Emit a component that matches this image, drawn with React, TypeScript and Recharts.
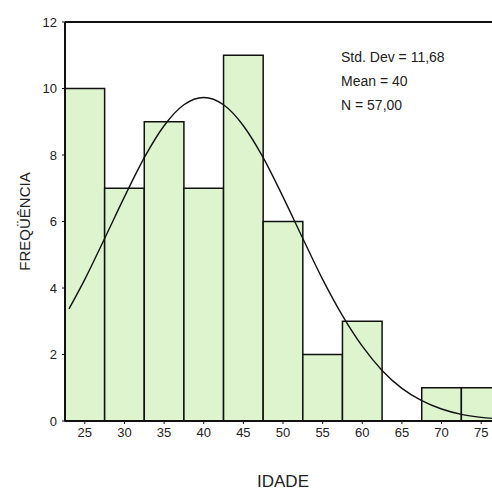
import { ComposedChart, Line, XAxis, YAxis, ReferenceArea, ReferenceLine } from "recharts";

// histogram bins (age classes) and counts
const binCenters = [25, 30, 35, 40, 45, 50, 55, 60, 65, 70, 75];
const counts = [10, 7, 9, 7, 11, 6, 2, 3, 0, 1, 1];
const binWidth = 5;

// fitted normal curve
const curveX = [23, 25, 27.5, 30, 32.5, 35, 37.5, 40, 42.5, 45, 47.5, 50, 52.5, 55, 57.5, 60, 62.5, 65, 67.5, 70, 72.5, 75, 77.5];
const curveY = [3.37, 4.26, 5.49, 6.74, 7.92, 8.88, 9.51, 9.73, 9.51, 8.88, 7.92, 6.74, 5.49, 4.26, 3.17, 2.25, 1.52, 0.98, 0.61, 0.36, 0.2, 0.11, 0.06];

const xTicks = [25, 30, 35, 40, 45, 50, 55, 60, 65, 70, 75];
const yTicks = [0, 2, 4, 6, 8, 10, 12];

const stats = ["Std. Dev = 11,68", "Mean = 40", "N = 57,00"];

const curveData = curveX.map((x, i) => ({ x, y: curveY[i] }));

const font = "'Liberation Sans', Arial, sans-serif";

export default function App() {
  return (
    <div style={{ position: "absolute", left: 0, top: 0, width: 492, height: 490, overflow: "hidden", background: "#fff", fontFamily: font }}>
      <ComposedChart width={510} height={490} data={curveData} margin={{ top: 22, right: 9, left: 0, bottom: 0 }}>
        <XAxis
          dataKey="x"
          type="number"
          domain={[22.5, 77.5]}
          ticks={xTicks}
          allowDataOverflow
          height={69}
          tickSize={3}
          tickMargin={4}
          tick={{ fill: "#222", fontSize: 13, fontFamily: font }}
          tickLine={{ stroke: "#111" }}
          axisLine={{ stroke: "#111", strokeWidth: 2 }}
          label={({ viewBox }: any) => (
            <text x={viewBox.x + viewBox.width / 2} y={487} textAnchor="middle" fontSize={17} fill="#222" fontFamily={font}>IDADE</text>
          )}
        />
        <YAxis
          type="number"
          domain={[0, 12]}
          ticks={yTicks}
          width={65}
          tickSize={3}
          tickMargin={5}
          tick={{ fill: "#222", fontSize: 13, fontFamily: font }}
          tickLine={{ stroke: "#111" }}
          axisLine={{ stroke: "#111", strokeWidth: 2 }}
          label={({ viewBox }: any) => (
            <text x={30} y={viewBox.y + viewBox.height / 2} transform={`rotate(-90 30 ${viewBox.y + viewBox.height / 2})`} textAnchor="middle" fontSize={15} fill="#222" fontFamily={font}>FREQÜÊNCIA</text>
          )}
        />
        {binCenters.map((c, i) =>
          counts[i] > 0 ? (
            <ReferenceArea
              key={c}
              x1={c - binWidth / 2}
              x2={c + binWidth / 2}
              y1={0}
              y2={counts[i]}
              fill="#ddf4cf"
              fillOpacity={1}
              stroke="#111"
              strokeWidth={1.5}
              ifOverflow="visible"
            />
          ) : null
        )}
        <ReferenceLine y={12} stroke="#111" strokeWidth={2} ifOverflow="visible" />
        <Line dataKey="y" type="monotone" stroke="#111" strokeWidth={1.4} dot={false} isAnimationActive={false} />
      </ComposedChart>
      <div style={{ position: "absolute", left: 341, top: 45, fontSize: 14, lineHeight: "24px", color: "#222" }}>
        {stats.map((s) => (
          <div key={s}>{s}</div>
        ))}
      </div>
    </div>
  );
}
